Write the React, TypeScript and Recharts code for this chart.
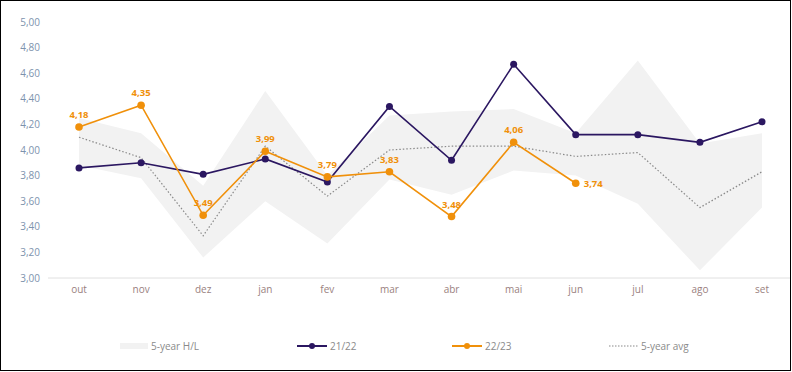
import React from "react";
import {
  ComposedChart, Area, Line, XAxis, YAxis, LabelList,
} from "recharts";

const MONTHS = ["out", "nov", "dez", "jan", "fev", "mar", "abr", "mai", "jun", "jul", "ago", "set"];
const SEASON_2122 = [3.86, 3.9, 3.81, 3.93, 3.75, 4.34, 3.92, 4.67, 4.12, 4.12, 4.06, 4.22];
const SEASON_2223: (number | null)[] = [4.18, 4.35, 3.49, 3.99, 3.79, 3.83, 3.48, 4.06, 3.74, null, null, null];
const AVG_5Y = [4.1, 3.94, 3.33, 4.03, 3.64, 4.0, 4.03, 4.03, 3.95, 3.98, 3.55, 3.83];
const LOW_5Y = [3.88, 3.78, 3.16, 3.6, 3.27, 3.77, 3.65, 3.84, 3.8, 3.58, 3.06, 3.55];
const HIGH_5Y = [4.25, 4.13, 3.72, 4.46, 3.8, 4.27, 4.3, 4.32, 4.13, 4.7, 4.05, 4.13];
const Y_TICKS = [3, 3.2, 3.4, 3.6, 3.8, 4, 4.2, 4.4, 4.6, 4.8, 5];

const PURPLE = "#2b1761";
const ORANGE = "#f0900a";
const BAND = "#f2f2f2";
const AVG = "#8a8a8a";
const FONT = "'Open Sans', sans-serif";

const fmt = (v: number) => v.toFixed(2).replace(".", ",");

const data = MONTHS.map((m, i) => ({
  month: m,
  band: [LOW_5Y[i], HIGH_5Y[i]],
  s2122: SEASON_2122[i],
  s2223: SEASON_2223[i],
  avg: AVG_5Y[i],
}));

const lastOrange = SEASON_2223.reduce((acc: number, v, i) => (v != null ? i : acc), 0);

function OrangeLabel(props: any) {
  const { x, y, value, index } = props;
  if (value == null) return null;
  const right = index === lastOrange;
  return (
    <text
      x={right ? x + 8 : x}
      y={right ? y + 3.5 : y - 9}
      textAnchor={right ? "start" : "middle"}
      fill={ORANGE}
      fontSize={9.5}
      fontWeight={700}
      fontFamily={FONT}
    >
      {fmt(value)}
    </text>
  );
}

function LegendBox() {
  const text = { fontSize: 10, color: "#8a8a8a", fontFamily: FONT, marginLeft: 3 };
  const item = (left: number): React.CSSProperties => ({
    position: "absolute", left, top: 0, display: "flex", alignItems: "center", height: 14,
  });
  return (
    <div style={{ position: "absolute", left: 0, top: 338, width: 789, height: 14 }}>
      <div style={item(119)}>
        <div style={{ width: 28, height: 6, background: BAND }} />
        <span style={text}>5-year H/L</span>
      </div>
      <div style={item(296)}>
        <svg width={30} height={8}>
          <line x1={0} y1={4} x2={30} y2={4} stroke={PURPLE} strokeWidth={2} />
          <circle cx={15} cy={4} r={3} fill={PURPLE} />
        </svg>
        <span style={text}>21/22</span>
      </div>
      <div style={item(451)}>
        <svg width={30} height={8}>
          <line x1={0} y1={4} x2={30} y2={4} stroke={ORANGE} strokeWidth={2} />
          <circle cx={15} cy={4} r={3} fill={ORANGE} />
        </svg>
        <span style={text}>22/23</span>
      </div>
      <div style={item(608)}>
        <svg width={29} height={8}>
          <line x1={0} y1={4} x2={29} y2={4} stroke={AVG} strokeWidth={1.2} strokeDasharray="1.5 1.5" />
        </svg>
        <span style={text}>5-year avg</span>
      </div>
    </div>
  );
}

export default function App() {
  return (
    <div
      style={{
        position: "fixed", left: 0, top: 0, width: 791, height: 371,
        border: "1px solid #000", boxSizing: "border-box", background: "#fff",
      }}
    >
      <ComposedChart
        width={789}
        height={369}
        data={data}
        margin={{ top: 21, right: 0, left: 0, bottom: 62 }}
      >
        <XAxis
          dataKey="month"
          height={30}
          padding={{ left: 31, right: 28 }}
          axisLine={{ stroke: "#e0e0e0" }}
          tickLine={false}
          tick={{ fontSize: 10, fill: "#9a7f80", fontFamily: FONT }}
        />
        <YAxis
          width={47}
          domain={[3, 5]}
          ticks={Y_TICKS}
          axisLine={false}
          tickLine={false}
          tickFormatter={fmt}
          tick={{ fontSize: 10, fill: "#7d93ad", fontFamily: FONT }}
        />
        <Area
          dataKey="band"
          fill={BAND}
          fillOpacity={1}
          stroke="none"
          isAnimationActive={false}
          activeDot={false}
        />
        <Line
          dataKey="avg"
          stroke={AVG}
          strokeWidth={1.2}
          strokeDasharray="1.5 2"
          dot={false}
          isAnimationActive={false}
        />
        <Line
          dataKey="s2122"
          stroke={PURPLE}
          strokeWidth={1.6}
          dot={{ r: 3.5, fill: PURPLE, stroke: PURPLE, strokeWidth: 0 }}
          isAnimationActive={false}
        />
        <Line
          dataKey="s2223"
          stroke={ORANGE}
          strokeWidth={1.6}
          dot={{ r: 3.8, fill: ORANGE, stroke: ORANGE, strokeWidth: 0 }}
          isAnimationActive={false}
        >
          <LabelList dataKey="s2223" content={<OrangeLabel />} />
        </Line>
      </ComposedChart>
      <LegendBox />
    </div>
  );
}
